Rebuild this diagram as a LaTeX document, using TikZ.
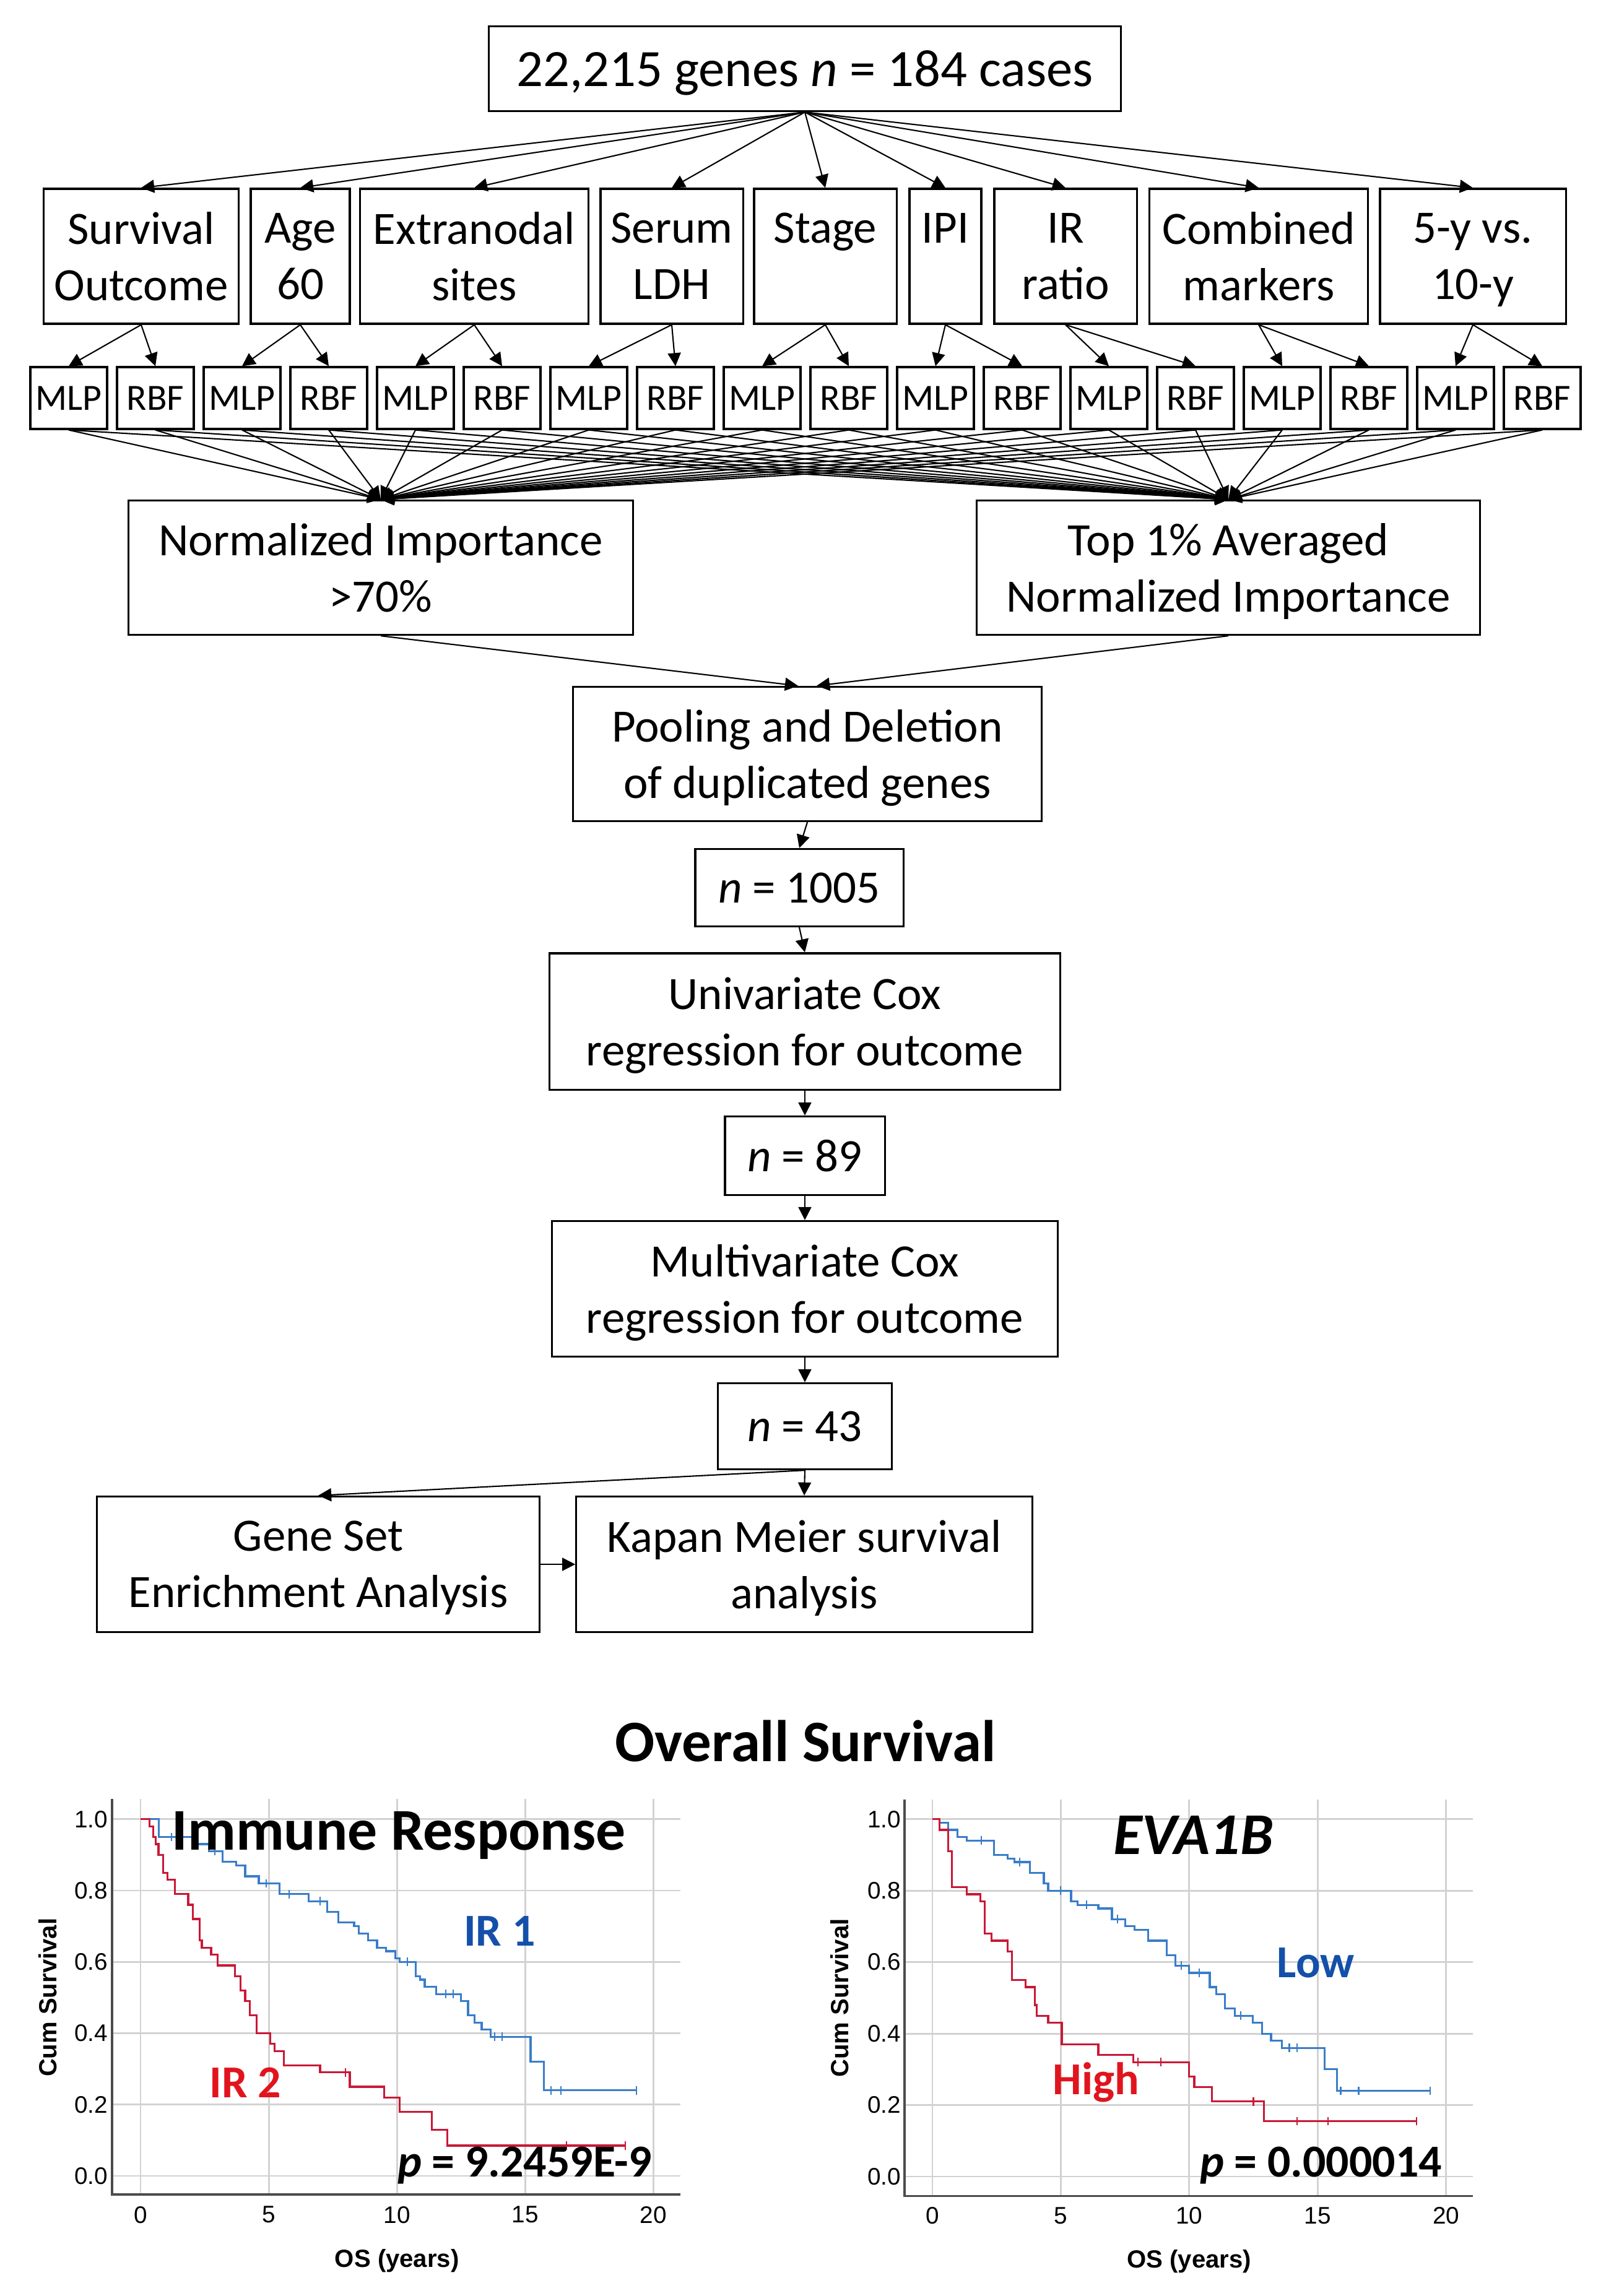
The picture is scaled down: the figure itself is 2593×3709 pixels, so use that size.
\documentclass[tikz,border=0pt]{standalone}
\usepackage{fontspec}
\setmainfont{Carlito}
\newfontfamily\plotfont{Liberation Sans}
\usetikzlibrary{arrows.meta}

\definecolor{curveblue}{RGB}{58,125,200}
\definecolor{labelblue}{RGB}{20,80,170}
\definecolor{curvered}{RGB}{200,25,55}
\definecolor{labelred}{RGB}{225,20,30}

\tikzset{
  box/.style={draw, line width=0.9pt, align=center, inner sep=0pt, text depth=0pt, font=\fontsize{21.3}{25.9}\selectfont},
  catbox/.style={box, minimum height=2.18cm},
  modbox/.style={draw, line width=0.9pt, inner sep=0pt, minimum width=1.24cm, minimum height=1.0cm, font=\fontsize{17}{20}\selectfont},
  arr/.style={line width=0.6pt, -{Triangle[length=6pt,width=6pt]}},
  grid line/.style={gray!35, line width=0.8pt},
  axis line/.style={black!70, line width=0.9pt},
  km/.style={line width=0.9pt},
  ticklab/.style={font=\plotfont\fontsize{11}{13}\selectfont},
  axlab/.style={font=\plotfont\bfseries\fontsize{11.4}{13}\selectfont},
  biglab/.style={font=\bfseries\fontsize{21}{25}\selectfont}
}

\begin{document}
\begin{tikzpicture}[x=0.01cm, y=-0.01cm]
\useasboundingbox (0,0) rectangle (2593,3709);

% Datos de entrada
\node[box, font=\fontsize{24.1}{29}\selectfont, minimum width=10.2cm, minimum height=1.37cm] (genes) at (1300,111) {22,215 genes \textit{n} = 184 cases};

% Variables clinicas
\foreach \nm/\cx/\w/\txt in {surv/228/3.15/{Survival\\Outcome}, age/485/1.60/{Age\\60}, extra/766/3.69/{Extranodal\\sites}, ldh/1085/2.30/{Serum\\LDH}, stage/1333/2.30/{Stage\\\mbox{}}, ipi/1527/1.16/{IPI\\\mbox{}}, irr/1721/2.30/{IR\\ratio}, comb/2033/3.53/{Combined\\markers}, yrs/2379/3.00/{5-y vs.\\10-y}}
  \node[catbox, minimum width=\w cm] (\nm) at (\cx,414) {\txt};

\foreach \nm in {surv,age,extra,ldh,stage,ipi,irr,comb,yrs}
  \draw[arr] (genes.south) -- (\nm.north);

% Redes MLP / RBF
\foreach \i in {1,...,18} {
  \pgfmathsetmacro\mx{111+(\i-1)*140}
  \node[modbox] (m\i) at (\mx,643) {\ifodd\i MLP\else RBF\fi};
}

\foreach \nm [count=\k] in {surv,age,extra,ldh,stage,ipi,irr,comb,yrs} {
  \pgfmathtruncatemacro\a{2*\k-1}
  \pgfmathtruncatemacro\b{2*\k}
  \draw[arr] (\nm.south) -- (m\a.north);
  \draw[arr] (\nm.south) -- (m\b.north);
}

% Importancia normalizada
\node[box, minimum width=8.14cm, minimum height=2.17cm] (norm) at (615,917) {Normalized Importance\\>70\%};
\node[box, minimum width=8.13cm, minimum height=2.17cm] (top1) at (1984,917) {Top 1\% Averaged\\Normalized Importance};

\foreach \i in {1,...,18} {
  \draw[arr] (m\i.south) -- (norm.north);
  \draw[arr] (m\i.south) -- (top1.north);
}

% Seleccion de genes
\node[box, minimum width=7.56cm, minimum height=2.17cm] (pool) at (1304,1218) {Pooling and Deletion\\of duplicated genes};
\node[box, minimum width=3.36cm, minimum height=1.25cm] (n1005) at (1291,1434) {\textit{n} = 1005};
\node[box, minimum width=8.25cm, minimum height=2.20cm] (univ) at (1300,1650) {Univariate Cox\\regression for outcome};
\node[box, minimum width=2.58cm, minimum height=1.27cm] (n89) at (1300,1867) {\textit{n} = 89};
\node[box, minimum width=8.17cm, minimum height=2.19cm] (multi) at (1300,2082) {Multivariate Cox\\regression for outcome};
\node[box, minimum width=2.81cm, minimum height=1.39cm] (n43) at (1300,2304) {\textit{n} = 43};
\node[box, minimum width=7.14cm, minimum height=2.19cm] (gsea) at (514,2527) {Gene Set\\Enrichment Analysis};
\node[box, minimum width=7.36cm, minimum height=2.19cm] (kmbox) at (1299,2527) {Kapan Meier survival\\analysis};

\draw[arr] (norm.south) -- ([xshift=-0.15cm]pool.north);
\draw[arr] (top1.south) -- ([xshift=0.15cm]pool.north);
\draw[arr] (pool.south) -- (n1005.north);
\draw[arr] (n1005.south) -- (univ.north);
\draw[arr] (univ.south) -- (n89.north);
\draw[arr] (n89.south) -- (multi.north);
\draw[arr] (multi.south) -- (n43.north);
\draw[arr] (n43.south) -- (gsea.north);
\draw[arr] (n43.south) -- (kmbox.north);
\draw[arr] (gsea.east) -- (kmbox.west);

% Curvas de supervivencia
\node[font=\bfseries\fontsize{27}{32}\selectfont] (title) at (1301,2812) {Overall Survival};

\begin{scope}[shift={(227,3515)}, x=0.414cm, y=5.76cm]
  \foreach \s in {0,0.2,...,1.0} \draw[grid line] (-1.11,\s) -- (21.04,\s);
  \foreach \t in {0,5,...,20} \draw[grid line] (\t,-0.052) -- (\t,1.056);
  \draw[axis line] (-1.11,1.056) -- (-1.11,-0.052) -- (21.04,-0.052);
  \foreach \s in {0.0,0.2,0.4,0.6,0.8,1.0} \node[ticklab] at (-1.93,\s) {\s};
  \foreach \t in {0,5,10,15,20} \node[ticklab] at (\t,-0.109) {\t};
  \node[axlab] at (10,-0.238) {OS (years)};
  \node[axlab, rotate=90] at (-3.62,0.5) {Cum Survival};
  % IR 1
  \draw[km, curveblue] (0,1) -| (0.71,0.95) -| (2.13,0.93) -| (2.66,0.91) -| (3.19,0.88) -| (3.72,0.87) -| (4.08,0.84) -| (4.61,0.82) -| (5.41,0.79) -| (6.56,0.77) -| (7.27,0.74) -| (7.71,0.71) -| (8.33,0.70) -| (8.51,0.68) -| (8.87,0.66) -| (9.22,0.64) -| (9.57,0.63) -| (9.93,0.61) -| (10.1,0.60) -| (10.73,0.56) -| (10.9,0.55) -| (11.08,0.53) -| (11.52,0.51) -| (12.5,0.49) -| (12.77,0.45) -| (13.03,0.43) -| (13.3,0.41) -| (13.65,0.39) -| (15.21,0.32) -| (15.73,0.24) -- (19.33,0.24);
  \foreach \t/\s in {1.2/0.95,2.9/0.91,4.9/0.82,5.8/0.79,7.0/0.77,10.4/0.60,11.9/0.51,12.2/0.51,13.8/0.39,14.1/0.39,16.0/0.24,16.4/0.24,19.33/0.24}
    \draw[curveblue, line width=0.6pt] (\t,\s-0.012) -- (\t,\s+0.012);
  % IR 2
  \draw[km, curvered] (0,1) -| (0.35,0.98) -| (0.5,0.95) -| (0.6,0.93) -| (0.7,0.90) -| (0.89,0.85) -| (1.06,0.83) -| (1.33,0.79) -| (1.86,0.76) -| (2.04,0.72) -| (2.3,0.66) -| (2.39,0.64) -| (2.75,0.62) -| (3.01,0.59) -| (3.69,0.56) -| (3.9,0.52) -| (4.08,0.49) -| (4.26,0.45) -| (4.52,0.40) -| (5.05,0.37) -| (5.23,0.35) -| (5.59,0.31) -| (7.0,0.29) -| (8.16,0.25) -| (9.49,0.22) -| (10.1,0.18) -| (11.35,0.13) -| (11.97,0.085) -- (18.9,0.085);
  \foreach \t/\s in {8.0/0.29,16.6/0.085,18.9/0.085}
    \draw[curvered, line width=0.6pt] (\t,\s-0.012) -- (\t,\s+0.012);
  \node[font=\bfseries\fontsize{27.2}{32}\selectfont] (irtitle) at (10.07,0.955) {Immune Response};
  \node[biglab, labelblue] (ir1) at (14.0,0.686) {IR 1};
  \node[biglab, labelred] (ir2) at (4.08,0.262) {IR 2};
  \node[biglab] (pleft) at (14.98,0.03) {\textit{p} = 9.2459E-9};
\end{scope}

\begin{scope}[shift={(1506,3516)}, x=0.4145cm, y=5.77cm]
  \foreach \s in {0,0.2,...,1.0} \draw[grid line] (-1.086,\s) -- (21.06,\s);
  \foreach \t in {0,5,...,20} \draw[grid line] (\t,-0.055) -- (\t,1.055);
  \draw[axis line] (-1.086,1.055) -- (-1.086,-0.055) -- (21.06,-0.055);
  \foreach \s in {0.0,0.2,0.4,0.6,0.8,1.0} \node[ticklab] at (-1.88,\s) {\s};
  \foreach \t in {0,5,10,15,20} \node[ticklab] at (\t,-0.109) {\t};
  \node[axlab] at (10,-0.238) {OS (years)};
  \node[axlab, rotate=90] at (-3.62,0.5) {Cum Survival};
  % Low
  \draw[km, curveblue] (0,1) -| (0.27,0.99) -| (0.62,0.97) -| (0.97,0.95) -| (1.33,0.94) -| (2.39,0.90) -| (2.92,0.89) -| (3.19,0.88) -| (3.8,0.85) -| (4.34,0.82) -| (4.51,0.80) -| (5.4,0.77) -| (5.66,0.76) -| (6.46,0.75) -| (6.99,0.72) -| (7.52,0.70) -| (7.88,0.69) -| (8.4,0.66) -| (9.12,0.62) -| (9.47,0.59) -| (10.0,0.57) -| (10.8,0.53) -| (11.06,0.51) -| (11.4,0.47) -| (11.77,0.45) -| (12.48,0.43) -| (12.83,0.40) -| (13.19,0.38) -| (13.6,0.36) -| (15.27,0.30) -| (15.75,0.24) -- (19.38,0.24);
  \foreach \t/\s in {1.9/0.94,3.4/0.88,5.0/0.80,6.0/0.76,7.2/0.72,9.7/0.59,10.4/0.57,12.0/0.45,13.9/0.36,14.2/0.36,15.9/0.24,16.6/0.24,19.38/0.24}
    \draw[curveblue, line width=0.6pt] (\t,\s-0.012) -- (\t,\s+0.012);
  % High
  \draw[km, curvered] (0,1) -| (0.27,0.97) -| (0.62,0.91) -| (0.76,0.81) -| (1.33,0.79) -| (1.86,0.77) -| (2.04,0.68) -| (2.3,0.66) -| (2.92,0.63) -| (3.1,0.55) -| (3.63,0.53) -| (3.98,0.48) -| (4.07,0.45) -| (4.51,0.43) -| (5.04,0.37) -| (6.46,0.34) -| (7.82,0.32) -| (10.0,0.28) -| (10.2,0.25) -| (10.88,0.21) -| (12.92,0.155) -- (18.85,0.155);
  \foreach \t/\s in {8.0/0.32,8.9/0.32,12.5/0.21,14.2/0.155,15.4/0.155,18.85/0.155}
    \draw[curvered, line width=0.6pt] (\t,\s-0.012) -- (\t,\s+0.012);
  \node[font=\bfseries\itshape\fontsize{27.2}{32}\selectfont] (genetitle) at (10.16,0.955) {EVA1B};
  \node[biglab, labelblue] (low) at (14.93,0.598) {Low};
  \node[biglab, labelred] (high) at (6.37,0.263) {High};
  \node[biglab] (pright) at (15.13,0.031) {\textit{p} = 0.000014};
\end{scope}
\end{tikzpicture}
\end{document}
